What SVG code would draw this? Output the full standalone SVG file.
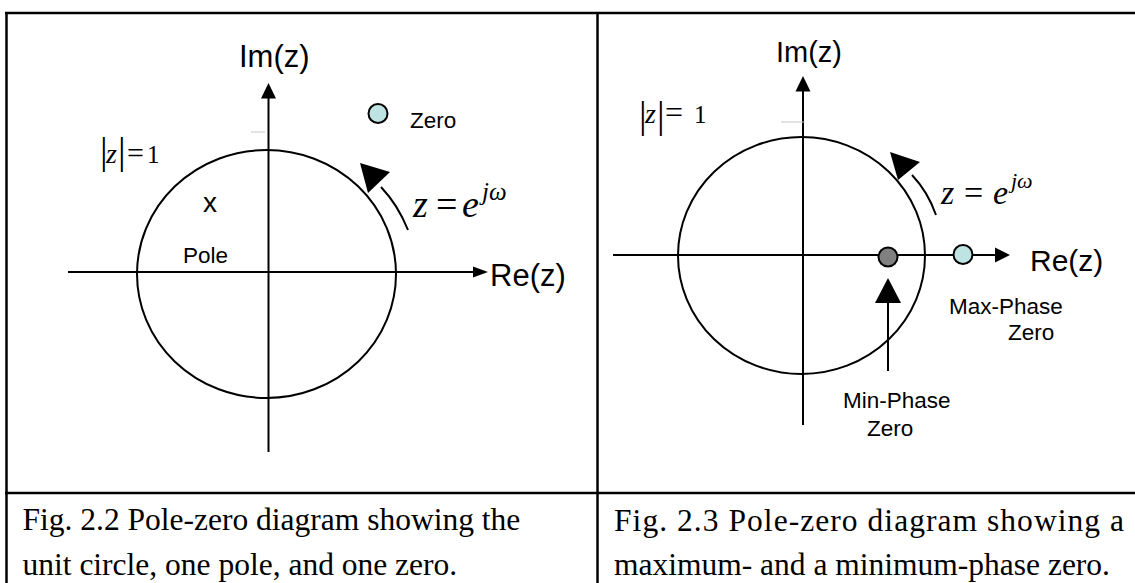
<svg xmlns="http://www.w3.org/2000/svg" width="1135" height="583" viewBox="0 0 1135 583">
<style>
.frame{stroke:#000;stroke-width:2.5;fill:none}
.ax{stroke:#000;stroke-width:2;fill:none}
.uc{stroke:#000;stroke-width:2;fill:none}
.tick{stroke:#c8c8c8;stroke-width:1}
.hd{fill:#000;stroke:none}
.sans{font-family:"Liberation Sans",Arial,sans-serif;fill:#000}
.ser{font-family:"Liberation Serif","Times New Roman",serif;fill:#000}
.it{font-style:italic}
.bar{font-family:"Liberation Serif","Times New Roman",serif;font-size:38px;fill:#000}
.cap{font-family:"Liberation Serif","Times New Roman",serif;font-size:31.5px;fill:#000}
.zc{fill:#bfe2e3;stroke:#000;stroke-width:2}
.zg{fill:#808080;stroke:#000;stroke-width:2}
</style>
<rect width="1135" height="583" fill="#fff"/>
<g id="frame">
<line class="frame" x1="5" y1="13" x2="1135" y2="13"/>
<line class="frame" x1="6.5" y1="12" x2="6.5" y2="583"/>
<line class="frame" x1="597.5" y1="12" x2="597.5" y2="583"/>
<line class="frame" x1="5" y1="493" x2="1135" y2="493"/>
</g>
<g id="connectors">
<line class="ax" x1="268.5" y1="98" x2="268.5" y2="452"/>
<polygon class="hd" points="268.5,83 261,98.5 276,98.5"/>
<line class="ax" x1="68" y1="272" x2="474" y2="272"/>
<polygon class="hd" points="488,272 473,266.5 473,277.5"/>
<line class="tick" x1="251" y1="132" x2="265" y2="132"/>
<path class="ax" d="M408,230 Q398,205 381,187"/>
<polygon class="hd" points="360,163 390,172 368,193"/>
<line class="ax" x1="803" y1="90" x2="803" y2="425"/>
<polygon class="hd" points="803,76 795.5,91.5 810.5,91.5"/>
<line class="ax" x1="613" y1="255" x2="997" y2="255"/>
<polygon class="hd" points="1010,255 995,247.5 995,262.5"/>
<line class="tick" x1="781" y1="122" x2="805" y2="122"/>
<path class="ax" d="M936,215 Q928,192 912,175"/>
<polygon class="hd" points="890,152 920,162 898,180"/>
<line class="ax" x1="888" y1="302" x2="888" y2="371"/>
<polygon class="hd" points="888,278 875,303 901,303"/>
</g>
<g id="left-unit-circle">
<ellipse class="uc" cx="266.5" cy="274" rx="129.5" ry="124"/>
</g>
<g id="left-labels">
<text class="sans" x="239" y="67" font-size="31">Im(z)</text>
<text class="sans" x="490" y="286" font-size="31">Re(z)</text>
<text class="bar" x="100" y="164">|</text>
<text class="ser it" x="106" y="163" font-size="28">z</text>
<text class="bar" x="118" y="164">|</text>
<text class="ser" x="127" y="163" font-size="30">=</text>
<text class="ser" x="147" y="163" font-size="25">1</text>
<text class="ser" x="413" y="217" font-size="38"><tspan class="it">z</tspan><tspan x="436">=</tspan><tspan class="it" x="462">e</tspan><tspan class="it" x="482" y="200" font-size="25">jω</tspan></text>
</g>
<g id="pole">
<text class="sans" x="203" y="212" font-size="28">x</text>
<text class="sans" x="183" y="263" font-size="22.5">Pole</text>
</g>
<g id="zero">
<circle class="zc" cx="378" cy="113.5" r="9.5"/>
<text class="sans" x="410" y="128" font-size="22.5">Zero</text>
</g>
<g id="right-unit-circle">
<ellipse class="uc" cx="801.5" cy="255.5" rx="123.5" ry="118.5"/>
</g>
<g id="right-labels">
<text class="sans" x="776" y="62" font-size="29">Im(z)</text>
<text class="sans" x="1030" y="271" font-size="30">Re(z)</text>
<text class="bar" x="639" y="128">|</text>
<text class="ser it" x="645" y="123" font-size="28">z</text>
<text class="bar" x="657" y="128">|</text>
<text class="ser" x="665" y="123" font-size="32">=</text>
<text class="ser" x="694" y="123" font-size="25">1</text>
<text class="ser" x="941" y="204" font-size="34"><tspan class="it">z</tspan><tspan x="964">=</tspan><tspan class="it" x="993">e</tspan><tspan class="it" x="1011" y="188" font-size="22">jω</tspan></text>
</g>
<g id="min-phase-zero">
<circle class="zg" cx="888" cy="257" r="9.5"/>
<text class="sans" x="843" y="408" font-size="22.5">Min-Phase</text>
<text class="sans" x="867" y="436" font-size="22.5">Zero</text>
</g>
<g id="max-phase-zero">
<circle class="zc" cx="963" cy="254.5" r="9.5"/>
<text class="sans" x="949" y="314" font-size="22.5">Max-Phase</text>
<text class="sans" x="1008" y="340" font-size="22.5">Zero</text>
</g>
<g id="captions">
<text class="cap" x="22.5" y="530">Fig. 2.2 Pole-zero diagram showing the</text>
<text class="cap" x="22.5" y="575">unit circle, one pole, and one zero.</text>
<text class="cap" x="614" y="531" textLength="510" lengthAdjust="spacing">Fig. 2.3 Pole-zero diagram showing a</text>
<text class="cap" x="614" y="575">maximum- and a minimum-phase zero.</text>
</g>
</svg>
